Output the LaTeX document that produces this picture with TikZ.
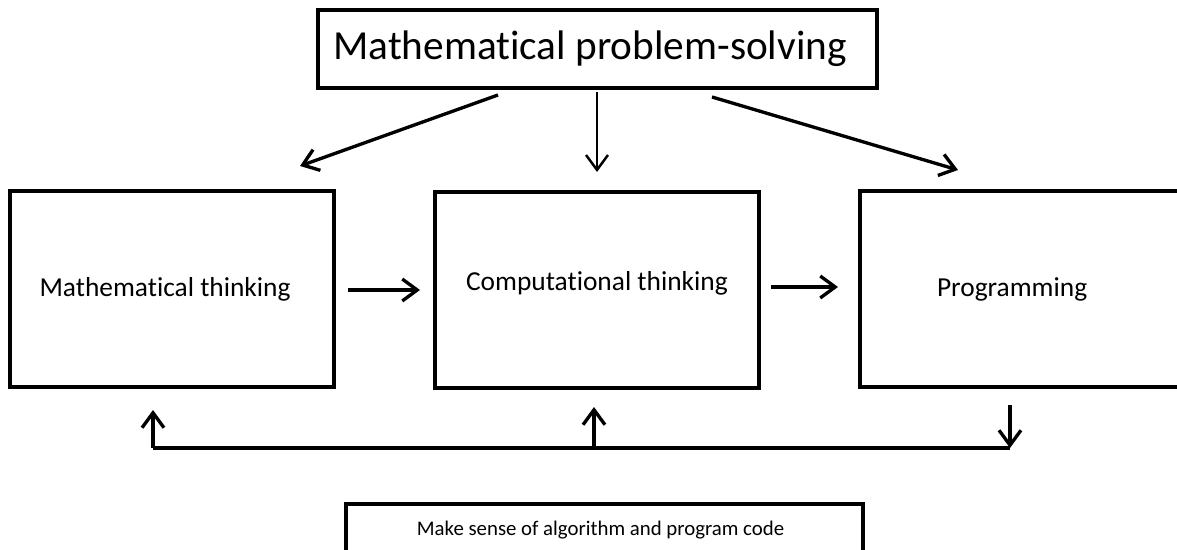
\documentclass[tikz,border=0pt]{standalone}
\usepackage{fontspec}
\setmainfont[Ligatures=NoCommon]{Carlito}
\usetikzlibrary{arrows.meta}

\tikzset{
  box/.style={draw,line width=1.8pt,inner sep=0pt,minimum width=6.48cm,minimum height=3.92cm,font=\fontsize{15.6}{18}\selectfont},
  bigbox/.style={draw,line width=2.3pt,inner sep=0pt},
  arr/.style={line width=1.9pt,-{Straight Barb[length=8.5pt,width=12.5pt]}},
  nudge/.style={execute at begin node={\hspace*{#1}}},
}

\begin{document}
\begin{tikzpicture}[x=0.02cm,y=-0.02cm]
\useasboundingbox (0,0) rectangle (1177,550);
\node[bigbox,nudge=-8.5pt,minimum width=11.18cm,minimum height=1.56cm,font=\fontsize{23.5}{28}\selectfont] (ps) at (597.5,49) {Mathematical problem-solving};
\node[box,nudge=-7.9pt] (mt) at (172,289) {Mathematical thinking};
\node[box] (ct) at (597,290) {\raisebox{10pt}{Computational thinking}};
\node[box,nudge=-11.3pt] (pr) at (1022,289) {Programming};
\node[bigbox,nudge=-4.5pt,minimum width=10.34cm,minimum height=1.04cm,font=\fontsize{11.85}{14}\selectfont] (ms) at (604.5,530) {Make sense of algorithm and program code};

\coordinate (ps-l) at (498,95);
\coordinate (ps-c) at (597,92);
\coordinate (ps-r) at (712,97);
\coordinate (mt-in) at (300,166);
\coordinate (ct-in) at (597,172);
\coordinate (pr-in) at (958,170);
\draw[arr] (ps-l) -- (mt-in);
\draw[arr,line width=1.4pt] (ps-c) -- (ct-in);
\draw[arr] (ps-r) -- (pr-in);

\coordinate (mt-out) at (348,290);
\coordinate (ct-w) at (420,290);
\coordinate (ct-out) at (771,287);
\coordinate (pr-w) at (838,287);
\draw[arr] (mt-out) -- (ct-w);
\draw[arr] (ct-out) -- (pr-w);

% feedback line under the boxes
\coordinate (fb-l) at (153,448);
\coordinate (fb-c) at (594,448);
\coordinate (fb-r) at (1010,448);
\coordinate (mt-fb) at (153,410);
\coordinate (ct-fb) at (594,407);
\coordinate (pr-fb) at (1010,405);
\draw[line width=1.9pt] (fb-l) -- (fb-r);
\draw[arr] (fb-l) -- (mt-fb);
\draw[arr] (fb-c) -- (ct-fb);
\draw[arr] (pr-fb) -- (fb-r);
\end{tikzpicture}
\end{document}
